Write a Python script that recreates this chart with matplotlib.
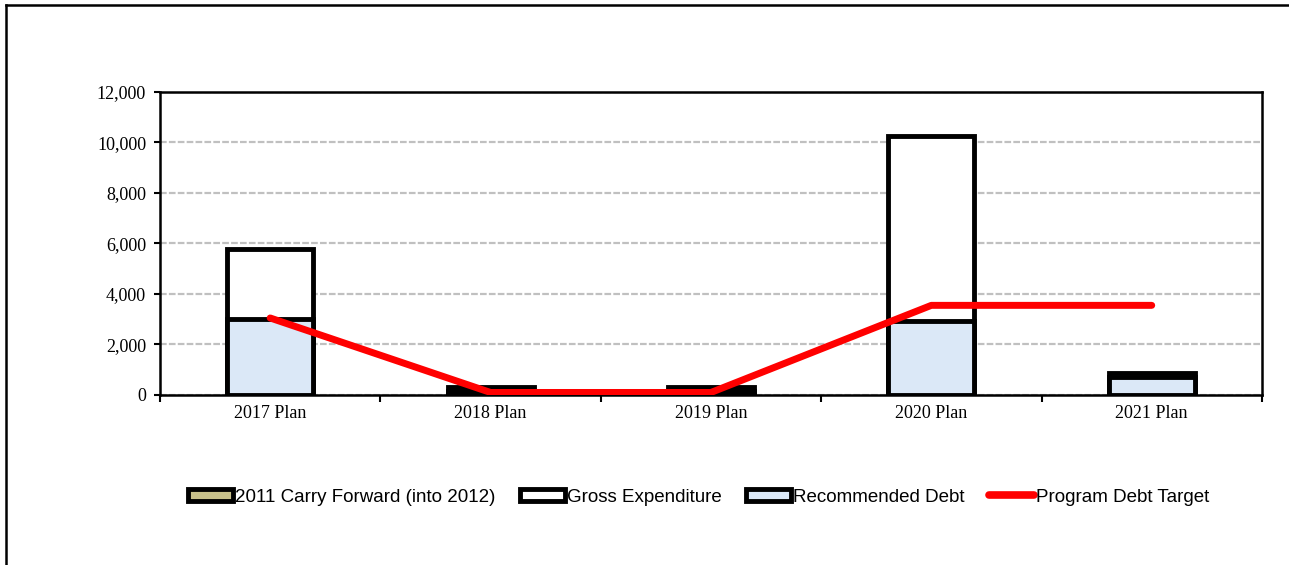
import numpy as np
import matplotlib.pyplot as plt
from matplotlib.patches import Patch
from matplotlib.lines import Line2D

# Datos
categorias = ["2017 Plan", "2018 Plan", "2019 Plan", "2020 Plan", "2021 Plan"]
carry_forward = [0, 0, 0, 0, 0]
gasto_bruto = [5780, 320, 320, 10250, 880]
deuda_recomendada = [3000, 150, 150, 2950, 700]
meta_deuda = [3050, 100, 100, 3550, 3550]

azul = "#dbe8f7"

fig = plt.figure(figsize=(12.89, 5.65), dpi=100)
ax = fig.add_axes([0.1241, 0.3009, 0.8549, 0.5363])

x = np.arange(len(categorias))
ancho = 0.39

ax.bar(x, gasto_bruto, width=ancho, color="white", edgecolor="black",
       linewidth=3.5, zorder=2)
ax.bar(x, deuda_recomendada, width=ancho, color=azul, edgecolor="black",
       linewidth=3.5, zorder=3)
ax.bar(x, carry_forward, width=ancho, color="#c8c08a", edgecolor="black",
       linewidth=0, zorder=3)
ax.plot(x, meta_deuda, color="red", linewidth=5, solid_capstyle="round", zorder=4)

ax.set_xlim(-0.5, 4.5)
ax.set_ylim(0, 12000)
ax.set_yticks(range(0, 12001, 2000))
ax.set_yticklabels([f"{v:,}" for v in range(0, 12001, 2000)],
                   fontfamily="Liberation Serif", fontsize=13)
ax.set_xticks(x)
ax.set_xticklabels(categorias, fontfamily="Liberation Serif", fontsize=13)
ax.set_xticks(np.arange(-0.5, 5, 1), minor=True)
ax.tick_params(axis="x", which="major", length=0, pad=7)
ax.tick_params(axis="x", which="minor", length=5, width=1.5, direction="out")
ax.tick_params(axis="y", length=4, width=1.5, direction="out", pad=6)

ax.yaxis.grid(True, color="#c0c0c0", linestyle=(0, (3, 1)), linewidth=1.6)
ax.set_axisbelow(True)
for lado in ax.spines.values():
    lado.set_linewidth(1.8)
    lado.set_color("black")

# Leyenda
handles = [
    Patch(facecolor="#c8c08a", edgecolor="black", linewidth=3.5),
    Patch(facecolor="white", edgecolor="black", linewidth=3.5),
    Patch(facecolor=azul, edgecolor="black", linewidth=3.5),
    Line2D([0], [0], color="red", linewidth=5.5, solid_capstyle="round"),
]
etiquetas = ["2011 Carry Forward (into 2012)", "Gross Expenditure",
             "Recommended Debt", "Program Debt Target"]
fig.legend(handles, etiquetas, loc="center", bbox_to_anchor=(0.542, 0.12),
           ncol=4, frameon=False, handlelength=2.4, handleheight=0.6,
           handletextpad=0.1, columnspacing=1.3,
           prop={"family": "Liberation Sans", "size": 13.5})

# Marco exterior (solo borde superior e izquierdo visibles)
fig.add_artist(Line2D([0.0047, 1.0], [0.991, 0.991], transform=fig.transFigure,
                      color="black", linewidth=1.8))
fig.add_artist(Line2D([0.0047, 0.0047], [0.0, 0.991], transform=fig.transFigure,
                      color="black", linewidth=1.8))

fig.savefig("out.png", dpi=100)
